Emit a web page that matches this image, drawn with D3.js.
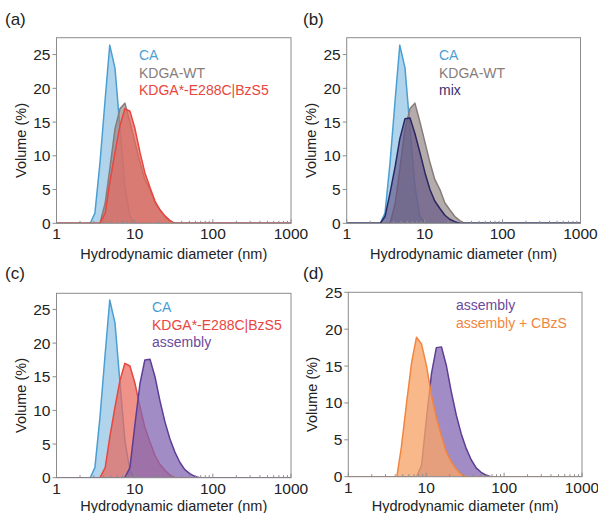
<!DOCTYPE html>
<html>
<head>
<meta charset="utf-8">
<script src="https://cdn.jsdelivr.net/npm/d3@7"></script>
<style>
  body { margin: 0; background: #fff; }
  text { font-family: "Liberation Sans", Arial, sans-serif; }
</style>
</head>
<body>
<div id="chart"></div>
<script>
// size bins (nm) and volume distributions (%)
const diam     = [1, 2.7, 3.1, 3.6, 4.2, 4.8, 5.6, 6.5, 7.5, 8.7, 10.1, 11.7, 13.5, 15.7, 18.2, 21.0, 24.4, 28.2, 32.7, 37.8, 43.8, 50.7, 58.8, 68.1, 1000];
const caVals   = [0, 0, 1.5, 9, 18.5, 26.4, 23, 14, 5.5, 1, 0, 0, 0, 0, 0, 0, 0, 0, 0, 0, 0, 0, 0, 0, 0];
const wtVals   = [0, 0, 0, 0, 3, 8, 14, 17, 17.8, 15, 12, 9, 6.5, 5, 3, 2, 1, 0.4, 0, 0, 0, 0, 0, 0, 0];
const bzsVals  = [0, 0, 0, 0, 1.5, 6, 10.5, 14.5, 17, 16.6, 14, 10.5, 7.5, 5.3, 3.3, 2, 1.1, 0.4, 0, 0, 0, 0, 0, 0, 0];
const mixVals  = [0, 0, 1, 4.5, 8.5, 12.5, 15.5, 15.6, 13.3, 10.5, 7.5, 5, 3.3, 2.2, 1.2, 0.6, 0.25, 0, 0, 0, 0, 0, 0, 0, 0];
const asmVals  = [0, 0, 0, 0, 0, 0, 0, 0, 0, 1.5, 8, 14, 17.5, 17.6, 15, 11.5, 8.3, 5.8, 3.8, 2.3, 1.2, 0.6, 0.2, 0, 0];
const cbzsVals = [0, 0, 0, 0, 0, 4, 10, 15.5, 18.9, 18, 15, 11, 8, 5.5, 3.3, 2, 1, 0.3, 0, 0, 0, 0, 0, 0, 0];

const xTicks = [1, 10, 100, 1000];
const yTicks = [0, 5, 10, 15, 20, 25];

const CA   = { name: "CA", vals: caVals, line: "#4a9fd2", fill: "#7ab8e0", op: 0.6 };
const WT   = { name: "KDGA-WT", vals: wtVals, line: "#877c7c", fill: "#948888", op: 0.7 };
const BZS  = { name: "KDGA*-E288C|BzS5", vals: bzsVals, line: "#e8463e", fill: "#e8685d", op: 0.72 };
const MIX  = { name: "mix", vals: mixVals, line: "#2b2763", fill: "#5a4b80", op: 0.6, legend: "#3a2f6e" };
const ASM  = { name: "assembly", vals: asmVals, line: "#5e3e93", fill: "#8366b2", op: 0.75, legend: "#6a4a9e" };
const CBZS = { name: "assembly + CBzS", vals: cbzsVals, line: "#f2853e", fill: "#f7a468", op: 0.78 };

const panels = [
  { tag: "(a)", l: 56.5, r: 291, t: 37.7, b: 223.3, ymax: 27.5, series: [CA, WT, BZS], lx: 139, ly: 60, tagx: 5, tagy: 25, ty: 36 },
  { tag: "(b)", l: 346.7, r: 580.5, t: 37.7, b: 223.3, ymax: 27.5, series: [CA, WT, MIX], lx: 439, ly: 60, tagx: 303, tagy: 25, ty: 36 },
  { tag: "(c)", l: 56.5, r: 291, t: 293.3, b: 477.7, ymax: 27.4, series: [CA, BZS, ASM], lx: 152, ly: 312, tagx: 5, tagy: 279, ty: 33 },
  { tag: "(d)", l: 348.3, r: 582, t: 292.3, b: 476.7, ymax: 25, series: [ASM, CBZS], lx: 456, ly: 310, tagx: 303, tagy: 279, ty: 34 }
];

const svg = d3.select("#chart").append("svg")
  .attr("width", 598)
  .attr("height", 513);

const minor = [];
for (let k = 0; k < 3; k++) for (let m = 2; m < 10; m++) minor.push(m * Math.pow(10, k));

panels.forEach(function(p, i) {
  const x = d3.scaleLog().domain([1, 1000]).range([p.l, p.r]);
  const y = d3.scaleLinear().domain([0, p.ymax]).range([p.b, p.t]);
  const g = svg.append("g");

  g.append("clipPath").attr("id", "clip" + i)
    .append("rect").attr("x", p.l).attr("y", p.t).attr("width", p.r - p.l).attr("height", p.b - p.t);

  const area = d3.area().x((d, j) => x(diam[j])).y0(y(0)).y1(d => y(d));
  const line = d3.line().x((d, j) => x(diam[j])).y(d => y(d));

  const plot = g.append("g").attr("clip-path", "url(#clip" + i + ")");
  p.series.forEach(function(s) {
    plot.append("path").attr("d", area(s.vals))
      .attr("fill", s.fill).attr("fill-opacity", s.op);
    plot.append("path").attr("d", line(s.vals))
      .attr("fill", "none").attr("stroke", s.line).attr("stroke-width", 1.5)
      .attr("stroke-linejoin", "round");
  });

  // frame
  g.append("rect").attr("x", p.l).attr("y", p.t).attr("width", p.r - p.l).attr("height", p.b - p.t)
    .attr("fill", "none").attr("stroke", "#8c8c8c").attr("stroke-width", 1);

  // x ticks pointing inward
  g.selectAll(".mn").data(minor).join("line")
    .attr("x1", d => x(d)).attr("x2", d => x(d))
    .attr("y1", p.b).attr("y2", p.b - 2.5)
    .attr("stroke", "#8c8c8c");
  g.selectAll(".mj").data(xTicks).join("line")
    .attr("x1", d => x(d)).attr("x2", d => x(d))
    .attr("y1", p.b).attr("y2", p.b - 4)
    .attr("stroke", "#8c8c8c");
  g.selectAll(".xl").data(xTicks).join("text")
    .attr("x", d => x(d)).attr("y", p.b + 16)
    .attr("text-anchor", "middle").attr("font-size", 15.5).attr("fill", "#222")
    .text(d => d);

  // y ticks pointing outward
  g.selectAll(".yt").data(yTicks).join("line")
    .attr("x1", p.l - 4).attr("x2", p.l)
    .attr("y1", d => y(d)).attr("y2", d => y(d))
    .attr("stroke", "#8c8c8c");
  g.selectAll(".yl").data(yTicks).join("text")
    .attr("x", p.l - 6).attr("y", d => y(d) + 5.5)
    .attr("text-anchor", "end").attr("font-size", 15.5).attr("fill", "#222")
    .text(d => d);

  // axis titles
  g.append("text")
    .attr("x", (p.l + p.r) / 2).attr("y", p.b + p.ty)
    .attr("text-anchor", "middle").attr("font-size", 14.5).attr("fill", "#222")
    .text("Hydrodynamic diameter (nm)");
  g.append("text")
    .attr("transform", `translate(${p.l - 31}, ${(p.t + p.b) / 2 + 10}) rotate(-90)`)
    .attr("text-anchor", "middle").attr("font-size", 14.5).attr("fill", "#222")
    .text("Volume (%)");

  // panel tag
  g.append("text").attr("x", p.tagx).attr("y", p.tagy)
    .attr("font-size", 17).attr("fill", "#222").text(p.tag);

  // legend
  p.series.forEach(function(s, j) {
    g.append("text").attr("x", p.lx).attr("y", p.ly + j * 17.5)
      .attr("font-size", 14).attr("fill", s.legend || s.line)
      .text(s.name);
  });
});
</script>
</body>
</html>
